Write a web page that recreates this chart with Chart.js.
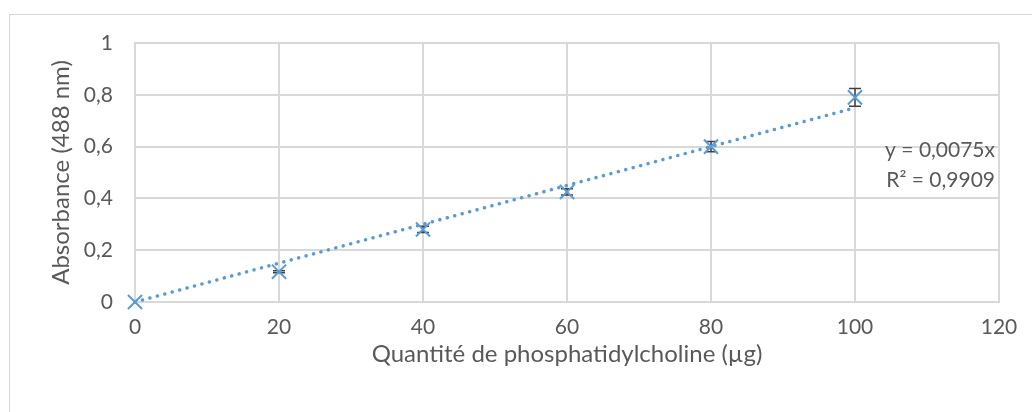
<!DOCTYPE html>
<html>
<head>
<meta charset="utf-8">
<script src="https://cdn.jsdelivr.net/npm/chart.js@4.4.1/dist/chart.umd.min.js"></script>
<style>
  html, body { margin: 0; padding: 0; background: #ffffff; overflow: hidden; width: 1032px; height: 412px; }
  #frame { position: absolute; left: 9px; top: 14px; width: 1100px; height: 500px; border: 1px solid #D9D9D9; box-sizing: border-box; }
  #wrap { position: absolute; left: 0; top: 0; width: 1032px; height: 412px; }
</style>
</head>
<body>
<div id="frame"></div>
<div id="wrap"><canvas id="chart" width="1032" height="412"></canvas></div>
<script>
// Calibration: phosphatidylcholine quantity (µg) vs absorbance at 488 nm
const quantities = [0, 20, 40, 60, 80, 100];
const absorbance = [0, 0.117, 0.28, 0.425, 0.60, 0.79];
const absorbanceErr = [0, 0.004, 0.012, 0.012, 0.02, 0.034];

// Linear fit through the origin
const slope = 0.0075;
const fitRange = [0, 100];
const fitEquation = 'y = 0,0075x';
const fitR2 = 'R² = 0,9909';

const xTickValues = [0, 20, 40, 60, 80, 100, 120];
const yTickValues = [0, 0.2, 0.4, 0.6, 0.8, 1];

const xTitle = 'Quantité de phosphatidylcholine (µg)';
const yTitle = 'Absorbance (488 nm)';

const FONT = 'Lato, "Open Sans", sans-serif';
const TEXT = '#595959';
const GRID = '#D9D9D9';
const BLUE = '#5B9BD5';

const frComma = v => String(Math.round(v * 10) / 10).replace('.', ',');

// Vertical error bars with caps, placed through the chart scales
const errorBars = {
  id: 'errorBars',
  beforeDatasetsDraw(chart) {
    const { ctx, scales: { x, y } } = chart;
    ctx.save();
    ctx.strokeStyle = '#404040';
    ctx.lineWidth = 1.5;
    quantities.forEach((q, i) => {
      const e = absorbanceErr[i];
      if (!e) return;
      const px = x.getPixelForValue(q);
      const top = y.getPixelForValue(absorbance[i] + e);
      const bot = y.getPixelForValue(absorbance[i] - e);
      ctx.beginPath();
      ctx.moveTo(px, top); ctx.lineTo(px, bot);
      ctx.moveTo(px - 6, top); ctx.lineTo(px + 6, top);
      ctx.moveTo(px - 6, bot); ctx.lineTo(px + 6, bot);
      ctx.stroke();
    });
    ctx.restore();
  }
};

// Trendline equation and R² at the right of the plot
const fitLabel = {
  id: 'fitLabel',
  afterDraw(chart) {
    const { ctx, chartArea } = chart;
    ctx.save();
    ctx.fillStyle = TEXT;
    ctx.font = '21px ' + FONT;
    ctx.textAlign = 'right';
    ctx.textBaseline = 'middle';
    const xr = chartArea.right - 4;
    ctx.fillText(fitEquation, xr, 150);
    ctx.fillText(fitR2, xr, 180);
    ctx.restore();
  }
};

new Chart(document.getElementById('chart'), {
  type: 'scatter',
  data: {
    datasets: [
      {
        label: 'Absorbance',
        data: quantities.map((q, i) => ({ x: q, y: absorbance[i] })),
        pointStyle: 'crossRot',
        pointRadius: 10,
        pointBorderWidth: 2,
        borderColor: BLUE,
        backgroundColor: BLUE,
        showLine: false,
        clip: false,
        order: 1
      },
      {
        label: 'Linéaire',
        type: 'line',
        data: fitRange.map(q => ({ x: q, y: slope * q })),
        borderColor: BLUE,
        borderWidth: 3.5,
        borderDash: [0.1, 7.6],
        borderCapStyle: 'round',
        pointRadius: 0,
        fill: false,
        clip: false,
        order: 2
      }
    ]
  },
  options: {
    responsive: false,
    animation: false,
    layout: { padding: { left: 0, top: 43, right: 33, bottom: 0 } },
    plugins: { legend: { display: false }, tooltip: { enabled: false } },
    scales: {
      x: {
        type: 'linear',
        min: 0, max: 120,
        afterBuildTicks: s => { s.ticks = xTickValues.map(v => ({ value: v })); },
        afterFit: s => { s.height = 110; },
        grid: { color: GRID, lineWidth: 2, drawTicks: false },
        border: { color: GRID, width: 2 },
        ticks: { color: TEXT, font: { family: FONT, size: 21 }, padding: 13, callback: v => String(v) },
        title: { display: true, text: xTitle, color: TEXT, font: { family: FONT, size: 24 }, padding: { top: 0, bottom: 43 } }
      },
      y: {
        type: 'linear',
        min: 0, max: 1,
        afterBuildTicks: s => { s.ticks = yTickValues.map(v => ({ value: v })); },
        afterFit: s => { s.width = 135; },
        grid: { color: GRID, lineWidth: 2, drawTicks: false },
        border: { color: GRID, width: 2 },
        ticks: { color: TEXT, font: { family: FONT, size: 21 }, padding: 22, callback: v => frComma(v) },
        title: { display: true, text: yTitle, color: TEXT, font: { family: FONT, size: 24 }, padding: { top: 47, bottom: 0 } }
      }
    }
  },
  plugins: [errorBars, fitLabel]
});
</script>
</body>
</html>
